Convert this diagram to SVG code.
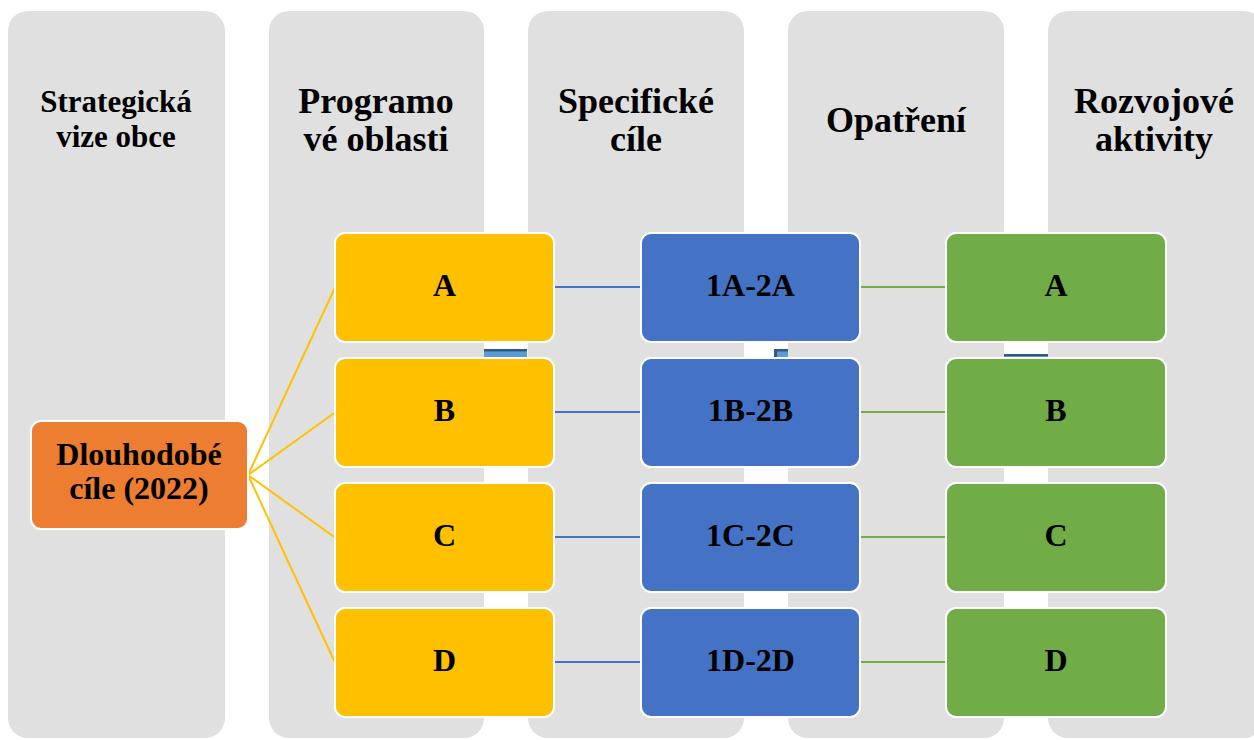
<svg xmlns="http://www.w3.org/2000/svg" width="1254" height="740" viewBox="0 0 1254 740">
<style>
.col{fill:#E0E0E0}
.hd{font-family:'Liberation Serif','Tinos','DejaVu Serif','Times New Roman',serif;font-weight:bold;font-size:36px;fill:#000;text-anchor:middle}
.hd1{font-size:31px}
.nd{stroke:#FFFFFF;stroke-width:2}
.y{fill:#FFC000}
.b{fill:#4472C4}
.g{fill:#70AD47}
.o{fill:#ED7D31}
.t{font-family:'Liberation Serif','Tinos','DejaVu Serif','Times New Roman',serif;font-weight:bold;font-size:32px;fill:#000;text-anchor:middle}
.cy{stroke:#FFC000;stroke-width:2;fill:none}
.cb{stroke:#4472C4;stroke-width:2;fill:none}
.cg{stroke:#70AD47;stroke-width:2;fill:none}
</style>
<rect width="1254" height="740" fill="#FFFFFF"/>
<g id="columns">
<g id="col1"><rect class="col" x="8" y="11" width="217" height="727" rx="20"/><text class="hd hd1" x="116" y="112">Strategická</text><text class="hd hd1" x="116" y="147">vize obce</text></g>
<g id="col2"><rect class="col" x="269" y="11" width="215" height="727" rx="20"/><text class="hd" x="376" y="113">Programo</text><text class="hd" x="376" y="151">vé oblasti</text></g>
<g id="col3"><rect class="col" x="528" y="11" width="216" height="727" rx="20"/><text class="hd" x="636" y="113">Specifické</text><text class="hd" x="636" y="151">cíle</text></g>
<g id="col4"><rect class="col" x="788" y="11" width="216" height="727" rx="20"/><text class="hd" x="896" y="132">Opatření</text></g>
<g id="col5"><rect class="col" x="1048" y="11" width="216" height="727" rx="20"/><text class="hd" x="1154" y="113">Rozvojové</text><text class="hd" x="1154" y="151">aktivity</text></g>
</g>
<g id="artifacts">
<rect x="484" y="349" width="43" height="8" fill="#5B9BD5"/><rect x="484" y="349" width="43" height="2.5" fill="#2E5A88"/>
<rect x="774" y="349" width="14" height="8" fill="#5B9BD5"/><rect x="774" y="349" width="14" height="2.5" fill="#2E5A88"/><rect x="774" y="349" width="3" height="8" fill="#2E5A88"/>
<rect x="1004" y="354" width="44" height="2.7" fill="#2E5A88"/>
</g>
<g id="connectors">
<line class="cy" x1="248" y1="475" x2="335" y2="287.5"/>
<line class="cy" x1="248" y1="475" x2="335" y2="412.5"/>
<line class="cy" x1="248" y1="475" x2="335" y2="537.5"/>
<line class="cy" x1="248" y1="475" x2="335" y2="662.5"/>
<line class="cb" x1="554" y1="287" x2="641" y2="287"/>
<line class="cb" x1="554" y1="412" x2="641" y2="412"/>
<line class="cb" x1="554" y1="537" x2="641" y2="537"/>
<line class="cb" x1="554" y1="662" x2="641" y2="662"/>
<line class="cg" x1="860" y1="287" x2="946" y2="287"/>
<line class="cg" x1="860" y1="412" x2="946" y2="412"/>
<line class="cg" x1="860" y1="537" x2="946" y2="537"/>
<line class="cg" x1="860" y1="662" x2="946" y2="662"/>
</g>
<g id="root"><rect class="nd o" x="31" y="421" width="217" height="108" rx="10"/><text class="t" x="139" y="465">Dlouhodobé</text><text class="t" x="139" y="499">cíle (2022)</text></g>
<g id="pA"><rect class="nd y" x="335" y="233" width="219" height="109" rx="10"/><text class="t" x="444.5" y="296">A</text></g>
<g id="pB"><rect class="nd y" x="335" y="358" width="219" height="109" rx="10"/><text class="t" x="444.5" y="421">B</text></g>
<g id="pC"><rect class="nd y" x="335" y="483" width="219" height="109" rx="10"/><text class="t" x="444.5" y="546">C</text></g>
<g id="pD"><rect class="nd y" x="335" y="608" width="219" height="109" rx="10"/><text class="t" x="444.5" y="671">D</text></g>
<g id="sA"><rect class="nd b" x="641" y="233" width="219" height="109" rx="10"/><text class="t" x="750.5" y="296">1A-2A</text></g>
<g id="sB"><rect class="nd b" x="641" y="358" width="219" height="109" rx="10"/><text class="t" x="750.5" y="421">1B-2B</text></g>
<g id="sC"><rect class="nd b" x="641" y="483" width="219" height="109" rx="10"/><text class="t" x="750.5" y="546">1C-2C</text></g>
<g id="sD"><rect class="nd b" x="641" y="608" width="219" height="109" rx="10"/><text class="t" x="750.5" y="671">1D-2D</text></g>
<g id="aA"><rect class="nd g" x="946" y="233" width="220" height="109" rx="10"/><text class="t" x="1056" y="296">A</text></g>
<g id="aB"><rect class="nd g" x="946" y="358" width="220" height="109" rx="10"/><text class="t" x="1056" y="421">B</text></g>
<g id="aC"><rect class="nd g" x="946" y="483" width="220" height="109" rx="10"/><text class="t" x="1056" y="546">C</text></g>
<g id="aD"><rect class="nd g" x="946" y="608" width="220" height="109" rx="10"/><text class="t" x="1056" y="671">D</text></g>
</svg>
